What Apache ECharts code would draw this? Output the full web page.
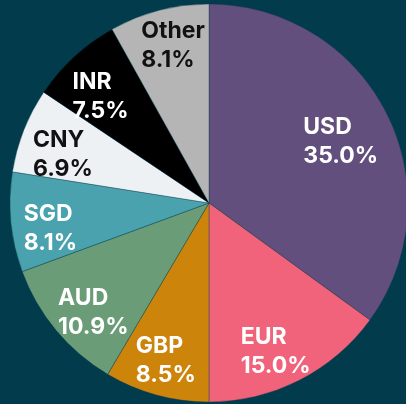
<!DOCTYPE html>
<html>
<head>
<meta charset="utf-8">
<script src="https://cdn.jsdelivr.net/npm/echarts@6/dist/echarts.min.js"></script>
<style>
  html, body { margin: 0; padding: 0; background: #023b4c; }
  #chart { width: 406px; height: 404px; }
</style>
</head>
<body>
<div id="chart"></div>
<script>
// clockwise from 12 o'clock
const currencies = ['USD', 'EUR', 'GBP', 'AUD', 'SGD', 'CNY', 'INR', 'Other']
const shares = [35.0, 15.0, 8.5, 10.9, 8.1, 6.9, 7.5, 8.1]

const sliceColors = ['#634f7d', '#f1627b', '#cc840b', '#6a9c77', '#49a2ad', '#eef1f4', '#000000', '#b5b5b5']
const darkText = ['CNY', 'Other']
// small per-label nudges so text sits where the original fitted it
const labelNudge = {
  USD: [-9, 3], EUR: [-5, 1], GBP: [-1, -2], AUD: [6, 1],
  SGD: [-1, 3], CNY: [1, 2], INR: [-1, 3], Other: [4, -12]
}

const FONT_SIZE = 23
const ctx = document.createElement('canvas').getContext('2d')
ctx.font = 'bold ' + FONT_SIZE + 'px Inter'
const blockWidth = (name, val) =>
  Math.ceil(Math.max(ctx.measureText(name).width, ctx.measureText(val.toFixed(1) + '%').width))

const chart = echarts.init(document.getElementById('chart'))

const option = {
  backgroundColor: '#023b4c',
  animation: false,
  series: [
    {
      type: 'pie',
      center: [209, 203],
      radius: [0, 199],
      startAngle: 90,
      clockwise: true,
      silent: true,
      label: { show: false },
      labelLine: { show: false },
      itemStyle: { borderColor: 'rgba(2, 59, 76, 0.6)', borderWidth: 0.6 },
      data: currencies.map((c, i) => ({
        name: c,
        value: shares[i],
        itemStyle: { color: sliceColors[i] }
      }))
    },
    {
      // transparent ring only used to place the labels further out
      type: 'pie',
      center: [209, 203],
      radius: [111, 199],
      startAngle: 90,
      clockwise: true,
      silent: true,
      avoidLabelOverlap: false,
      labelLayout: { hideOverlap: false },
      itemStyle: { color: 'transparent' },
      labelLine: { show: false },
      label: {
        show: true,
        position: 'inside',
        formatter: (p) => '{t|' + p.name + '}\n{t|' + p.value.toFixed(1) + '%}'
      },
      data: currencies.map((c, i) => {
        const n = labelNudge[c]
        return {
          name: c,
          value: shares[i],
          label: {
            offset: [n[0], 7 + n[1]],
            rich: {
              t: {
                width: blockWidth(c, shares[i]),
                align: 'left',
                fontFamily: 'Inter',
                fontWeight: 'bold',
                fontSize: FONT_SIZE,
                lineHeight: 29,
                color: darkText.includes(c) ? '#111111' : '#ffffff'
              }
            }
          }
        }
      })
    }
  ]
}

chart.setOption(option)
</script>
</body>
</html>
